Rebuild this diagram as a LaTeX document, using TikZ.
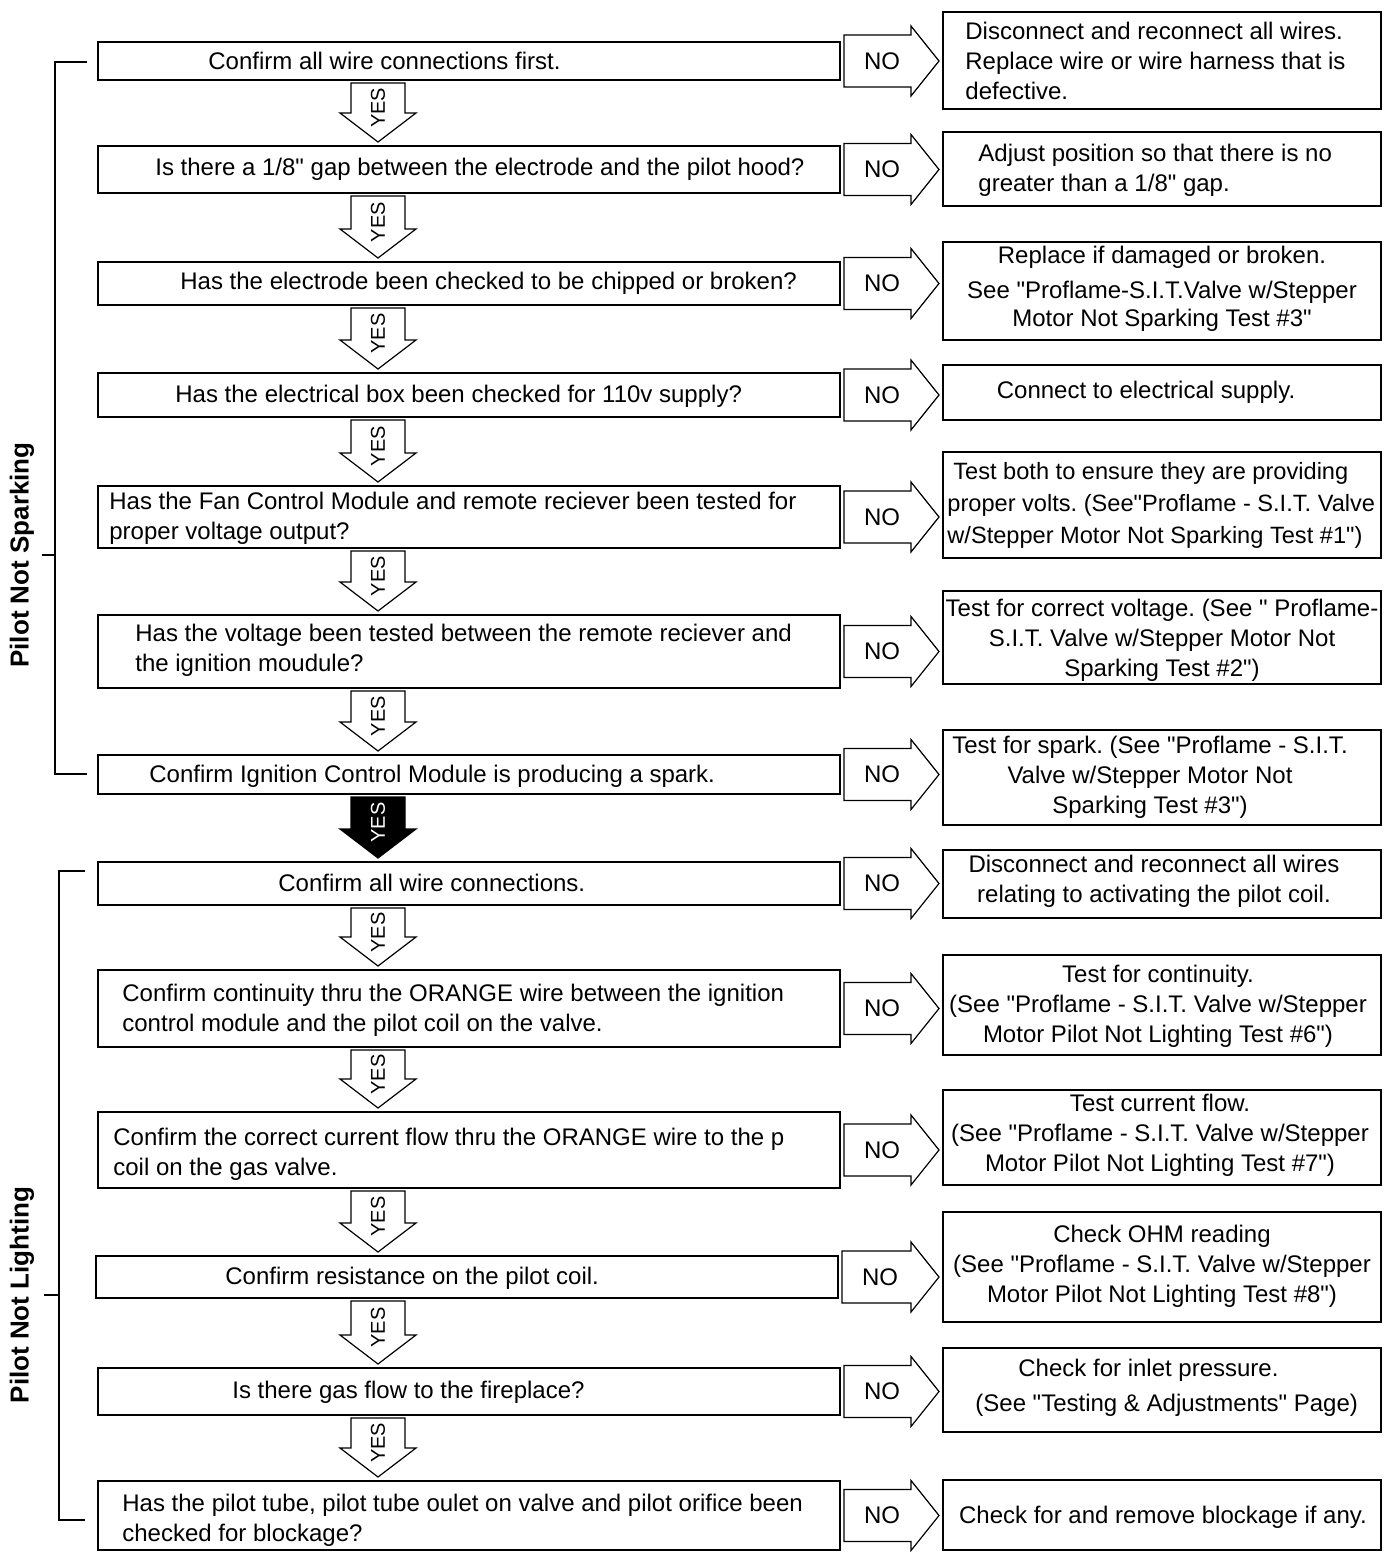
\documentclass[tikz,border=0pt]{standalone}
\usepackage{fontspec}
\setmainfont{Liberation Sans}[Ligatures=TeXOff]
\usetikzlibrary{calc,fit}
\newcommand\NoArrow[3]{%
  \coordinate (#1s) at ($(#2.east)+(3,0)$);
  \coordinate (#1e) at ($(#3.west |- #2.east)+(-3,0)$);
  \draw[arr] ($(#1s)+(0,-26)$) -- ($(#1e)+(-28,-26)$) -- ($(#1e)+(-28,-35)$) -- (#1e) -- ($(#1e)+(-28,35)$) -- ($(#1e)+(-28,26)$) -- ($(#1s)+(0,26)$) -- cycle;
  \node[notxt] (#1t) at ($(#1s)+(38,0)$) {NO};
}
\newcommand\YesArrow[5]{%
  \coordinate (#1s) at ($(yx |- #2.south)+(0,2)$);
  \coordinate (#1e) at ($(yx |- #3.north)+(0,-3)$);
  \draw[arr, fill=#4] ($(#1s)+(-27,0)$) -- ($(#1s)+(27,0)$) -- ($(#1e)+(27,-29)$) -- ($(#1e)+(38,-29)$) -- (#1e) -- ($(#1e)+(-38,-29)$) -- ($(#1e)+(-27,-29)$) -- cycle;
  \node[yestxt, text=#5] (#1t) at ($(#1s)!0.42!(#1e)$) {YES};
}
\begin{document}
\frenchspacing
\begin{tikzpicture}[x=0.5pt,y=-0.5pt,
  box/.style={draw, line width=1pt, inner sep=0pt, fill=white},
  txt/.style={font=\fontsize{12}{15}\selectfont, inner sep=0pt},
  arr/.style={draw, line width=0.6pt, fill=white, line join=miter},
  brk/.style={line width=1pt},
  lab/.style={font=\fontsize{13}{15}\selectfont\bfseries, rotate=90, inner sep=0pt},
  notxt/.style={font=\fontsize{12}{14}\selectfont, inner sep=0pt},
  yestxt/.style={font=\fontsize{10}{12}\selectfont, inner sep=0pt, rotate=90}]
\useasboundingbox (0,0) rectangle (1388,1552);
\coordinate (yx) at (378,0);
\coordinate (b1) at (55,0);
\coordinate (b2) at (59,0);
% left question boxes
\node[box, fit={(98,42) (840,80)}] (q1) {};
\node[box, fit={(98,146) (840,193)}] (q2) {};
\node[box, fit={(98,262) (840,305)}] (q3) {};
\node[box, fit={(98,373) (840,417)}] (q4) {};
\node[box, fit={(98,486) (840,548)}] (q5) {};
\node[box, fit={(98,615) (840,688)}] (q6) {};
\node[box, fit={(98,755) (840,794)}] (q7) {};
\node[box, fit={(98,862) (840,905)}] (q8) {};
\node[box, fit={(98,970) (840,1047)}] (q9) {};
\node[box, fit={(98,1112) (840,1188)}] (q10) {};
\node[box, fit={(96,1256) (838,1298)}] (q11) {};
\node[box, fit={(98,1368) (840,1415)}] (q12) {};
\node[box, fit={(98,1481) (840,1550)}] (q13) {};
% right answer boxes
\node[box, fit={(943,12) (1381,109)}] (r1) {};
\node[box, fit={(943,132) (1381,206)}] (r2) {};
\node[box, fit={(943,242) (1381,340)}] (r3) {};
\node[box, fit={(943,365) (1381,420)}] (r4) {};
\node[box, fit={(943,452) (1381,558)}] (r5) {};
\node[box, fit={(943,591) (1381,684)}] (r6) {};
\node[box, fit={(943,730) (1381,825)}] (r7) {};
\node[box, fit={(943,850) (1381,918)}] (r8) {};
\node[box, fit={(943,955) (1381,1055)}] (r9) {};
\node[box, fit={(943,1090) (1381,1185)}] (r10) {};
\node[box, fit={(943,1212) (1381,1322)}] (r11) {};
\node[box, fit={(943,1348) (1381,1432)}] (r12) {};
\node[box, fit={(943,1480) (1381,1550)}] (r13) {};
% left texts
\node[txt, anchor=west] (q1t) at (208,61) {Confirm all wire connections first.};
\node[txt, anchor=west] (q2t) at (155,169) {Is there a 1/8" gap between the electrode and the pilot hood?};
\node[txt, anchor=west] (q3t) at (180,283) {Has the electrode been checked to be chipped or broken?};
\node[txt, anchor=west] (q4t) at (175,396) {Has the electrical box been checked for 110v supply?};
\node[txt, anchor=west, align=left] (q5t) at (109,518) {Has the Fan Control Module and remote reciever been tested for\\proper voltage output?};
\node[txt, anchor=west, align=left] (q6t) at (135,650) {Has the voltage been tested between the remote reciever and\\the ignition moudule?};
\node[txt, anchor=west] (q7t) at (149,776) {Confirm Ignition Control Module is producing a spark.};
\node[txt, anchor=west] (q8t) at (278,883) {Confirm all wire connections.};
\node[txt, anchor=west, align=left] (q9t) at (122,1010) {Confirm continuity thru the ORANGE wire between the ignition\\control module and the pilot coil on the valve.};
\node[txt, anchor=west, align=left] (q10t) at (113,1154) {Confirm the correct current flow thru the ORANGE wire to the p\\coil on the gas valve.};
\node[txt, anchor=west] (q11t) at (225,1278) {Confirm resistance on the pilot coil.};
\node[txt, anchor=west] (q12t) at (232,1392) {Is there gas flow to the fireplace?};
\node[txt, anchor=west, align=left] (q13t) at (122,1520) {Has the pilot tube, pilot tube oulet on valve and pilot orifice been\\checked for blockage?};
% right texts
\node[txt, anchor=west, align=left] (r1t) at (965,61) {Disconnect and reconnect all wires.\\Replace wire or wire harness that is\\defective.};
\node[txt, anchor=west, align=left] (r2t) at (978,170) {Adjust position so that there is no\\greater than a 1/8" gap.};
\node[txt, align=center] (r3t) at (1162,289) {Replace if damaged or broken.\\[2.5pt]See "Proflame-S.I.T.Valve w/Stepper\\[-1pt]Motor Not Sparking Test \#3"};
\node[txt] (r4t) at (1146,392) {Connect to electrical supply.};
\node[txt, anchor=west, align=left, font=\fontsize{11.8}{15}\selectfont] (r5t) at (947,505) {\hspace*{3pt}Test both to ensure they are providing\\[1pt]proper volts. (See"Proflame - S.I.T. Valve\\[1pt]w/Stepper Motor Not Sparking Test \#1")};
\node[txt, align=center] (r6t) at (1162,640) {Test for correct voltage. (See " Proflame-\\S.I.T. Valve w/Stepper Motor Not\\Sparking Test \#2")};
\node[txt, align=center] (r7t) at (1150,777) {Test for spark. (See "Proflame - S.I.T.\\Valve w/Stepper Motor Not\\Sparking Test \#3")};
\node[txt, align=center] (r8t) at (1154,881) {Disconnect and reconnect all wires\\relating to activating the pilot coil.};
\node[txt, align=center] (r9t) at (1158,1006) {Test for continuity.\\(See "Proflame - S.I.T. Valve w/Stepper\\Motor Pilot Not Lighting Test \#6")};
\node[txt, align=center] (r10t) at (1160,1135) {Test current flow.\\(See "Proflame - S.I.T. Valve w/Stepper\\Motor Pilot Not Lighting Test \#7")};
\node[txt, align=center] (r11t) at (1162,1266) {Check OHM reading\\(See "Proflame - S.I.T. Valve w/Stepper\\Motor Pilot Not Lighting Test \#8")};
\node[txt, anchor=west, align=left] (r12t) at (975,1388) {\hspace*{21.5pt}Check for inlet pressure.\\[2.5pt](See "Testing \& Adjustments" Page)};
\node[txt] (r13t) at (1163,1517) {Check for and remove blockage if any.};
% NO arrows
\NoArrow{n1}{q1}{r1}
\NoArrow{n2}{q2}{r2}
\NoArrow{n3}{q3}{r3}
\NoArrow{n4}{q4}{r4}
\NoArrow{n5}{q5}{r5}
\NoArrow{n6}{q6}{r6}
\NoArrow{n7}{q7}{r7}
\NoArrow{n8}{q8}{r8}
\NoArrow{n9}{q9}{r9}
\NoArrow{n10}{q10}{r10}
\NoArrow{n11}{q11}{r11}
\NoArrow{n12}{q12}{r12}
\NoArrow{n13}{q13}{r13}
% YES arrows
\YesArrow{y1}{q1}{q2}{white}{black}
\YesArrow{y2}{q2}{q3}{white}{black}
\YesArrow{y3}{q3}{q4}{white}{black}
\YesArrow{y4}{q4}{q5}{white}{black}
\YesArrow{y5}{q5}{q6}{white}{black}
\YesArrow{y6}{q6}{q7}{white}{black}
\YesArrow{y7}{q7}{q8}{black}{white}
\YesArrow{y8}{q8}{q9}{white}{black}
\YesArrow{y9}{q9}{q10}{white}{black}
\YesArrow{y10}{q10}{q11}{white}{black}
\YesArrow{y11}{q11}{q12}{white}{black}
\YesArrow{y12}{q12}{q13}{white}{black}
% brackets
\coordinate (s1) at ($(q1.west)+(-10,1)$);
\coordinate (s7) at ($(q7.west)+(-10,-1)$);
\draw[brk] (s1) -- (b1 |- s1) -- (b1 |- s7) -- (s7);
\node[lab] (l1) at (22,555) {Pilot Not Sparking};
\draw[brk] (b1 |- l1.center) -- ++(-13,0);
\coordinate (s8) at ($(q8.north west)+(-12,10)$);
\coordinate (s13) at ($(q13.west)+(-12,4)$);
\draw[brk] (s8) -- (b2 |- s8) -- (b2 |- s13) -- (s13);
\node[lab] (l2) at (22,1295) {Pilot Not Lighting};
\draw[brk] (b2 |- l2.center) -- ++(-15,0);
\end{tikzpicture}
\end{document}
